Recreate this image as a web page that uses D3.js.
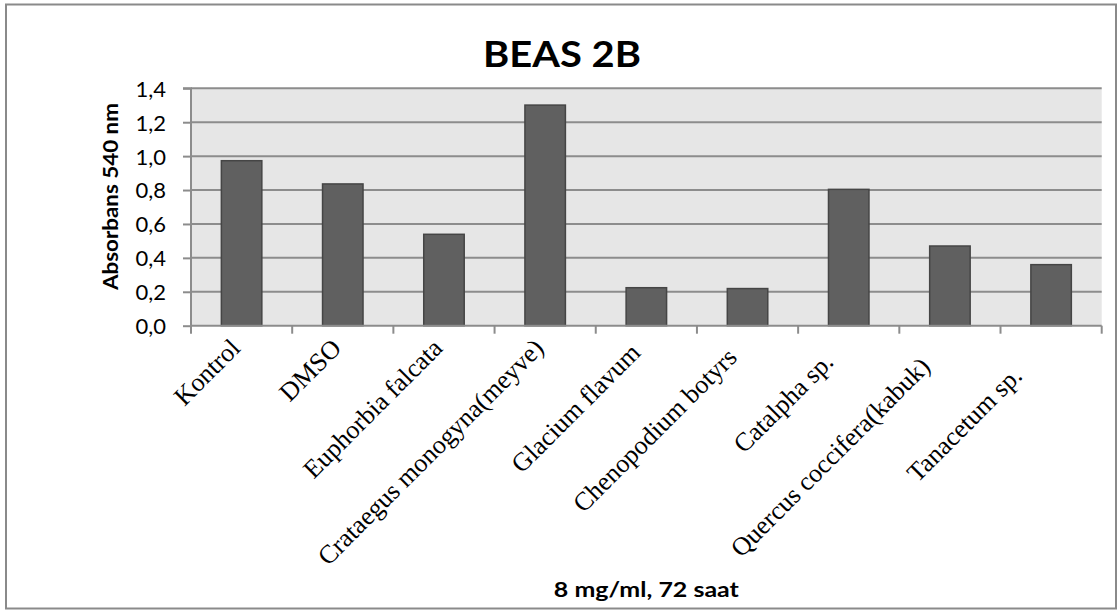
<!DOCTYPE html>
<html>
<head>
<meta charset="utf-8">
<script src="https://cdn.jsdelivr.net/npm/d3@7"></script>
<style>
  html, body { margin: 0; padding: 0; background: #fff; }
  svg { display: block; }
</style>
</head>
<body>
<svg id="chart" width="1117" height="610"></svg>
<script>
const categories = [
  "Kontrol", "DMSO", "Euphorbia falcata", "Crataegus monogyna(meyve)",
  "Glacium flavum ", "Chenopodium botyrs  ", "Catalpha sp.   ",
  "Quercus coccifera(kabuk)    ", "Tanacetum sp.      "
];
const values = [0.973, 0.836, 0.539, 1.301, 0.224, 0.219, 0.804, 0.470, 0.360];
const yTicks = [0, 0.2, 0.4, 0.6, 0.8, 1.0, 1.2, 1.4];
const title = "BEAS 2B";
const yTitle = "Absorbans 540 nm";
const xTitle = "8 mg/ml, 72 saat";

const svg = d3.select("#chart");
const plot = { left: 191, right: 1101.7, top: 88.3, bottom: 325.7 };

// chart border
svg.append("rect")
  .attr("x", 6).attr("y", 4.5).attr("width", 1110).attr("height", 604)
  .attr("fill", "#fff").attr("stroke", "#8a8a8a").attr("stroke-width", 2);

const x = d3.scaleBand().domain(categories).range([plot.left, plot.right]).paddingInner(0.6).paddingOuter(0.3);
const xb = d3.scaleBand().domain(categories).range([plot.left, plot.right]);
const y = d3.scaleLinear().domain([0, 1.4]).range([plot.bottom, plot.top]);

// plot background
svg.append("rect")
  .attr("x", plot.left).attr("y", plot.top)
  .attr("width", plot.right - plot.left).attr("height", plot.bottom - plot.top)
  .attr("fill", "#e6e6e6");

// gridlines
svg.append("g").selectAll("line").data(yTicks.filter(d => d > 0)).join("line")
  .attr("x1", plot.left).attr("x2", plot.right)
  .attr("y1", d => y(d)).attr("y2", d => y(d))
  .attr("stroke", "#8c8c8c").attr("stroke-width", 2);

// bars
svg.append("g").selectAll("rect").data(values).join("rect")
  .attr("x", (d, i) => x(categories[i]))
  .attr("width", x.bandwidth())
  .attr("y", d => y(d))
  .attr("height", d => y(0) - y(d))
  .attr("fill", "#606060")
  .attr("stroke", "#454545").attr("stroke-width", 1.5);

// y axis
const yAxis = d3.axisLeft(y).tickValues(yTicks).tickSize(8).tickPadding(17)
  .tickFormat(d => d3.format(".1f")(d).replace(".", ","));
const gy = svg.append("g").attr("transform", `translate(${plot.left},0)`).call(yAxis);
gy.select(".domain").attr("stroke", "#8c8c8c").attr("stroke-width", 2).attr("d", `M-8,${plot.top}H0V${plot.bottom}`);
gy.selectAll(".tick line").attr("stroke", "#8c8c8c").attr("stroke-width", 2);
gy.selectAll(".tick text").attr("font-family", "Lato, sans-serif").attr("font-size", 22).attr("fill", "#000")
  .attr("dy", "0.36em");

// x axis
const xAxis = d3.axisBottom(xb).tickSize(0).tickFormat("");
const gx = svg.append("g").attr("transform", `translate(0,${plot.bottom})`).call(xAxis);
gx.select(".domain").attr("stroke", "#8c8c8c").attr("stroke-width", 2).attr("d", `M${plot.left},0H${plot.right}`);
gx.selectAll(".tick").remove();
const bounds = categories.map(c => xb(c)).concat([plot.right]);
gx.selectAll("line.bt").data(bounds).join("line").attr("class", "bt")
  .attr("x1", d => d).attr("x2", d => d).attr("y1", 0).attr("y2", 8)
  .attr("stroke", "#8c8c8c").attr("stroke-width", 2);

// category labels
svg.append("g").selectAll("text").data(categories).join("text")
  .attr("transform", d => `translate(${xb(d) + xb.bandwidth() / 2 + 0},${plot.bottom + 24}) rotate(-45)`)
  .attr("text-anchor", "end")
  .style("white-space", "pre")
  .attr("font-family", "'Liberation Serif', 'Times New Roman', serif")
  .attr("font-size", 26)
  .attr("fill", "#000")
  .text(d => d);

// title
svg.append("text")
  .attr("x", 562).attr("y", 66.7).attr("text-anchor", "middle")
  .attr("font-family", "Lato, sans-serif").attr("font-weight", "bold").attr("font-size", 36)
  .attr("textLength", 158).attr("lengthAdjust", "spacingAndGlyphs")
  .text(title);

// y title
svg.append("text")
  .attr("transform", `translate(118,196.5) rotate(-90)`)
  .attr("text-anchor", "middle")
  .attr("font-family", "Lato, sans-serif").attr("font-weight", "bold").attr("font-size", 20)
  .attr("textLength", 187).attr("lengthAdjust", "spacingAndGlyphs")
  .text(yTitle);

// x title
svg.append("text")
  .attr("x", (plot.left + plot.right) / 2).attr("y", 597).attr("text-anchor", "middle")
  .attr("font-family", "Lato, sans-serif").attr("font-weight", "bold").attr("font-size", 21)
  .attr("textLength", 185).attr("lengthAdjust", "spacingAndGlyphs")
  .text(xTitle);
</script>
</body>
</html>
